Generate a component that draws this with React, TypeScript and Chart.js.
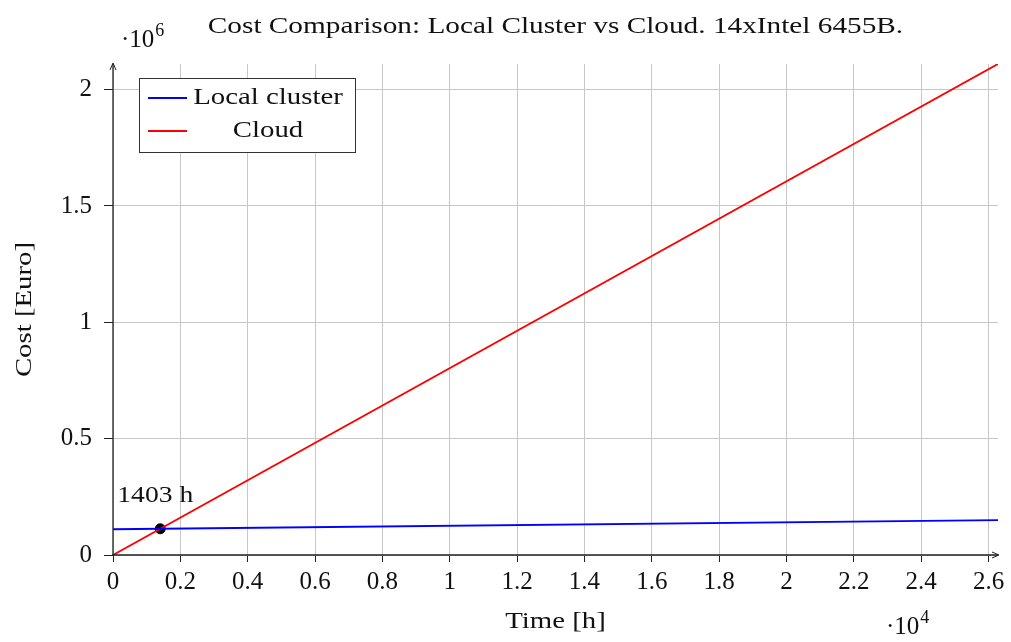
import React, { useEffect, useRef } from "react";
import { Chart, registerables } from "chart.js";

Chart.register(...registerables);

const titleText = "Cost Comparison: Local Cluster vs Cloud. 14xIntel 6455B.";
const xAxisTitle = "Time [h]";
const yAxisTitle = "Cost [Euro]";
const seriesLabels = ["Local cluster", "Cloud"];

const hours = [0, 26280];
const localCost = [110556, 149976];
const cloudCost = [0, 2110284];
const breakEvenHours = [1403];
const breakEvenCost = [112661];
const breakEvenLabel = "1403 h";

const xTicks = [0, 2000, 4000, 6000, 8000, 10000, 12000, 14000, 16000, 18000, 20000, 22000, 24000, 26000];
const xTickLabels = ["0", "0.2", "0.4", "0.6", "0.8", "1", "1.2", "1.4", "1.6", "1.8", "2", "2.2", "2.4", "2.6"];
const yTicks = [0, 500000, 1000000, 1500000, 2000000];
const yTickLabels = ["0", "0.5", "1", "1.5", "2"];

const FONT = '"Liberation Serif", "DejaVu Serif", serif';
const FS = 24;
const TFS = 25;

function wideText(ctx: any, text: string, x: number, y: number, sx: number, rot = 0) {
  ctx.save();
  ctx.translate(x, y);
  if (rot) ctx.rotate(rot);
  ctx.scale(sx, 1);
  ctx.textAlign = "center";
  ctx.fillText(text, 0, 0);
  ctx.restore();
}

const decor = {
  id: "decor",
  afterDraw(chart: any) {
    const { ctx, chartArea: a, scales } = chart;
    const xs = scales.x, ys = scales.y;
    ctx.save();
    // axes
    ctx.strokeStyle = "#222";
    ctx.fillStyle = "#222";
    ctx.lineWidth = 1.3;
    const x0 = xs.getPixelForValue(0), y0 = ys.getPixelForValue(0);
    ctx.beginPath();
    ctx.moveTo(a.left - 1, y0);
    ctx.lineTo(a.right, y0);
    ctx.moveTo(x0, a.bottom + 1);
    ctx.lineTo(x0, a.top);
    ctx.stroke();
    // arrows
    ctx.lineWidth = 1;
    ctx.beginPath();
    ctx.moveTo(a.right - 6, y0 - 3);
    ctx.lineTo(a.right + 1, y0);
    ctx.lineTo(a.right - 6, y0 + 3);
    ctx.moveTo(x0 - 3, a.top + 6);
    ctx.lineTo(x0, a.top - 1);
    ctx.lineTo(x0 + 3, a.top + 6);
    ctx.stroke();

    ctx.fillStyle = "#111";
    ctx.textBaseline = "middle";
    ctx.font = `${FS}px ${FONT}`;
    const cx = (a.left + a.right) / 2;
    wideText(ctx, titleText, cx, 27, 1.22);
    wideText(ctx, xAxisTitle, cx, 622, 1.2);
    wideText(ctx, yAxisTitle, 25, (a.top + a.bottom) / 2, 1.2, -Math.PI / 2);

    // multipliers
    const drawMult = (x: number, y: number, exp: string) => {
      ctx.textAlign = "left";
      ctx.font = `${TFS}px ${FONT}`;
      ctx.fillText("\u00b710", x, y);
      const w = ctx.measureText("\u00b710").width;
      ctx.font = `${Math.round(TFS * 0.7)}px ${FONT}`;
      ctx.fillText(exp, x + w + 1, y - 9);
    };
    drawMult(121, 40, "6");
    drawMult(886, 627, "4");

    // annotation
    const px = xs.getPixelForValue(breakEvenHours[0]);
    const py = ys.getPixelForValue(breakEvenCost[0]);
    ctx.font = `${FS}px ${FONT}`;
    wideText(ctx, breakEvenLabel, px - 5, py - 33, 1.15);

    // legend
    const lx = 139, ly = 78, lw = 216, lh = 74;
    ctx.fillStyle = "#fff";
    ctx.fillRect(lx, ly, lw, lh);
    ctx.strokeStyle = "#333";
    ctx.lineWidth = 1;
    ctx.strokeRect(lx + 0.5, ly + 0.5, lw, lh);
    const colors = chart.data.datasets.slice(0, 2).map((d: any) => d.borderColor);
    const rows = [98, 131];
    ctx.font = `${FS}px ${FONT}`;
    seriesLabels.forEach((lab, i) => {
      ctx.strokeStyle = colors[i];
      ctx.lineWidth = 1.8;
      ctx.beginPath();
      ctx.moveTo(148, rows[i]);
      ctx.lineTo(187, rows[i]);
      ctx.stroke();
      ctx.fillStyle = "#111";
      wideText(ctx, lab, 268, rows[i], 1.2);
    });
    ctx.restore();
  },
};

export default function App() {
  const ref = useRef<HTMLCanvasElement | null>(null);
  useEffect(() => {
    if (!ref.current) return;
    const chart = new Chart(ref.current, {
      type: "line",
      data: {
        datasets: [
          {
            label: seriesLabels[0],
            data: hours.map((h, i) => ({ x: h, y: localCost[i] })),
            borderColor: "#0000ff",
            borderWidth: 1.8,
            pointRadius: 0,
          },
          {
            label: seriesLabels[1],
            data: hours.map((h, i) => ({ x: h, y: cloudCost[i] })),
            borderColor: "#ff0000",
            borderWidth: 1.8,
            pointRadius: 0,
          },
          {
            label: "break-even",
            data: breakEvenHours.map((h, i) => ({ x: h, y: breakEvenCost[i] })),
            showLine: false,
            pointRadius: 5,
            pointBackgroundColor: "#000",
            pointBorderColor: "#000",
            borderColor: "#000",
          },
        ],
      },
      options: {
        animation: false,
        responsive: true,
        maintainAspectRatio: false,
        layout: { padding: { left: 0, right: 13, top: 64, bottom: 0 } },
        plugins: { legend: { display: false }, title: { display: false }, tooltip: { enabled: false } },
        scales: {
          x: {
            type: "linear",
            min: 0,
            max: 26280,
            afterBuildTicks: (s: any) => {
              s.ticks = xTicks.map((v) => ({ value: v }));
            },
            afterFit: (s: any) => {
              s.height = 87;
            },
            ticks: {
              autoSkip: false,
              maxRotation: 0,
              padding: 5,
              color: "#111",
              font: { family: FONT, size: TFS },
              callback: (v: any) => xTickLabels[xTicks.indexOf(Number(v))] ?? "",
            },
            grid: { color: "#c8c8c8", lineWidth: 1, tickColor: "#222", tickLength: 7 },
            border: { display: false },
          },
          y: {
            type: "linear",
            min: 0,
            max: 2110000,
            afterBuildTicks: (s: any) => {
              s.ticks = yTicks.map((v) => ({ value: v }));
            },
            afterFit: (s: any) => {
              s.width = 113;
            },
            ticks: {
              autoSkip: false,
              padding: 12,
              color: "#111",
              font: { family: FONT, size: TFS },
              callback: (v: any) => yTickLabels[yTicks.indexOf(Number(v))] ?? "",
            },
            grid: { color: "#c8c8c8", lineWidth: 1, tickColor: "#222", tickLength: 9 },
            border: { display: false },
          },
        },
      },
      plugins: [decor],
    });
    return () => chart.destroy();
  }, []);
  return (
    <div style={{ position: "fixed", left: 0, top: 0, width: 1011, height: 642, background: "#fff" }}>
      <canvas ref={ref} />
    </div>
  );
}
